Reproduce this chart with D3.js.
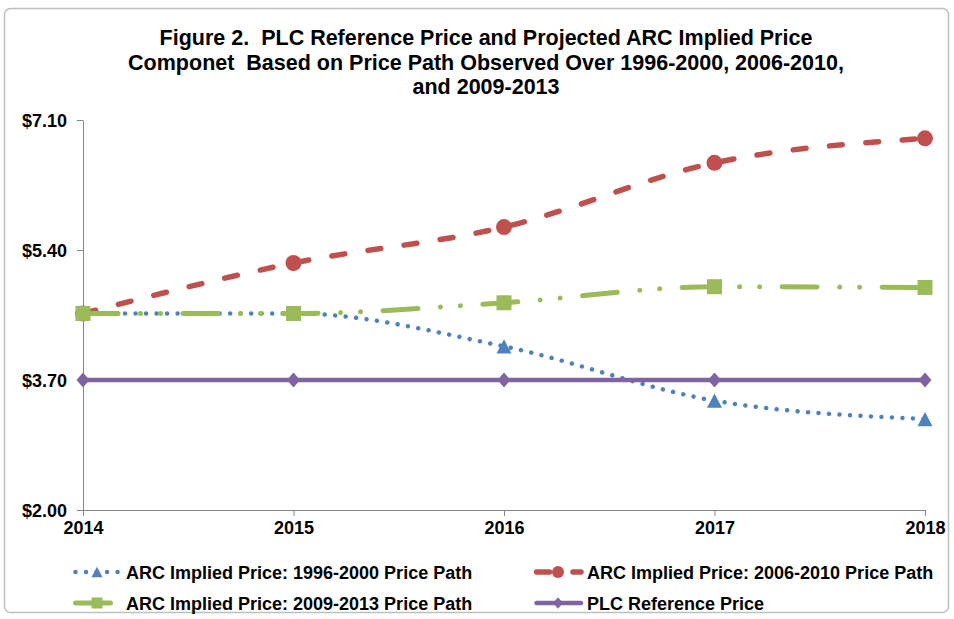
<!DOCTYPE html>
<html>
<head>
<meta charset="utf-8">
<script src="https://cdn.jsdelivr.net/npm/d3@7.9.0/dist/d3.min.js"></script>
<style>
  body { margin: 0; background: #fff; }
  svg { display: block; font-family: "Liberation Sans", Arial, sans-serif; }
  .axis text { font-size: 18px; font-weight: bold; fill: #000; }
  .axis path, .axis line { stroke: #868686; stroke-width: 1; }
  .title { white-space: pre; }
</style>
</head>
<body>
<svg id="chart" width="954" height="619"></svg>
<script>
// chart data
const years = [2014, 2015, 2016, 2017, 2018];
const arc1996_2000 = [4.57, 4.57, 4.14, 3.43, 3.19];
const arc2006_2010 = [4.57, 5.23, 5.70, 6.54, 6.86];
const arc2009_2013 = [4.57, 4.57, 4.71, 4.92, 4.91];
const plcReference = [3.70, 3.70, 3.70, 3.70, 3.70];
const yTicks = [2.00, 3.70, 5.40, 7.10];
const seriesNames = [
  "ARC Implied Price: 1996-2000 Price Path",
  "ARC Implied Price: 2006-2010 Price Path",
  "ARC Implied Price: 2009-2013 Price Path",
  "PLC Reference Price"
];
const titleLines = [
  "Figure 2.  PLC Reference Price and Projected ARC Implied Price",
  "Componet  Based on Price Path Observed Over 1996-2000, 2006-2010,",
  "and 2009-2013"
];

const svg = d3.select("#chart");

// outer chart border
svg.append("rect")
  .attr("x", 4.5).attr("y", 8.5)
  .attr("width", 944).attr("height", 604)
  .attr("rx", 6)
  .attr("fill", "none")
  .attr("stroke", "#bfbfbf")
  .attr("stroke-width", 1.5);

// title (keep the double spaces)
svg.append("g").selectAll("text")
  .data(titleLines)
  .join("text")
  .attr("class", "title")
  .attr("x", 486)
  .attr("y", (d, i) => 45 + i * 24.5)
  .attr("text-anchor", "middle")
  .attr("font-size", 21.5)
  .attr("font-weight", "bold")
  .text(d => d);

// scales
const x = d3.scaleLinear().domain([2014, 2018]).range([83, 925]);
const y = d3.scaleLinear().domain([2.00, 7.10]).range([510, 120]);

// axes
svg.append("g")
  .attr("class", "axis")
  .attr("transform", "translate(83,0)")
  .call(d3.axisLeft(y).tickValues(yTicks).tickSize(6).tickSizeOuter(0).tickPadding(10)
    .tickFormat(d => "$" + d.toFixed(2)))
  .selectAll("text").attr("dy", "0.35em");

svg.append("g")
  .attr("class", "axis")
  .attr("transform", "translate(0,510)")
  .call(d3.axisBottom(x).tickValues(years).tickSize(6).tickSizeOuter(0).tickPadding(5)
    .tickFormat(d3.format("d")));

// marker shapes
const triangle = {
  draw(ctx, size) {
    const w = Math.sqrt(size), h = w * 0.95;
    ctx.moveTo(0, -h / 2);
    ctx.lineTo(w / 2, h / 2);
    ctx.lineTo(-w / 2, h / 2);
    ctx.closePath();
  }
};
const diamond = {
  draw(ctx, size) {
    const w = Math.sqrt(size), h = w * 1.15;
    ctx.moveTo(0, -h / 2);
    ctx.lineTo(w / 2, 0);
    ctx.lineTo(0, h / 2);
    ctx.lineTo(-w / 2, 0);
    ctx.closePath();
  }
};

const series = [
  { name: seriesNames[0], values: arc1996_2000, color: "#4F81BD", width: 4.5,
    dash: "0.01 10.5", shape: triangle, size: 15 * 15, legendSize: 11 * 11 },
  { name: seriesNames[1], values: arc2006_2010, color: "#C0504D", width: 5.5,
    dash: "13 23.5", shape: d3.symbolCircle, size: Math.PI * 64, legendSize: Math.PI * 36 },
  { name: seriesNames[2], values: arc2009_2013, color: "#9BBB59", width: 5,
    dash: "35 22.5 0.01 20 0.01 22.5", shape: d3.symbolSquare, size: 15 * 15, legendSize: 11 * 11 },
  { name: seriesNames[3], values: plcReference, color: "#8064A2", width: 4.5,
    dash: null, shape: diamond, size: 13 * 13, legendSize: 10 * 10 }
];

const line = d3.line()
  .x((d, i) => x(years[i]))
  .y(d => y(d))
  .curve(d3.curveMonotoneX);

// each series: line then markers
series.forEach(s => {
  const g = svg.append("g");
  g.append("path")
    .attr("d", line(s.values))
    .attr("fill", "none")
    .attr("stroke", s.color)
    .attr("stroke-width", s.width)
    .attr("stroke-linecap", "round")
    .attr("stroke-dasharray", s.dash);
  g.selectAll(".marker")
    .data(s.values)
    .join("path")
    .attr("class", "marker")
    .attr("transform", (d, i) => `translate(${x(years[i])},${y(d)})`)
    .attr("d", d3.symbol().type(s.shape).size(s.size))
    .attr("fill", s.color);
});

// legend
const legendPos = [
  { lx: 73, ly: 572 },
  { lx: 534, ly: 572 },
  { lx: 73, ly: 603 },
  { lx: 534, ly: 603 }
];
const legend = svg.append("g");
series.forEach((s, i) => {
  const p = legendPos[i];
  const item = legend.append("g").attr("transform", `translate(${p.lx},${p.ly})`);
  item.append("path")
    .attr("d", d3.line()([[2.5, 0], [47, 0]]))
    .attr("fill", "none")
    .attr("stroke", s.color)
    .attr("stroke-width", s.width)
    .attr("stroke-linecap", "round")
    .attr("stroke-dasharray", s.dash);
  item.append("path")
    .attr("transform", "translate(24,0)")
    .attr("d", d3.symbol().type(s.shape).size(s.legendSize))
    .attr("fill", s.color);
  item.append("text")
    .attr("x", 53)
    .attr("y", 6.5)
    .attr("font-size", 18)
    .attr("font-weight", "bold")
    .text(s.name);
});
</script>
</body>
</html>
